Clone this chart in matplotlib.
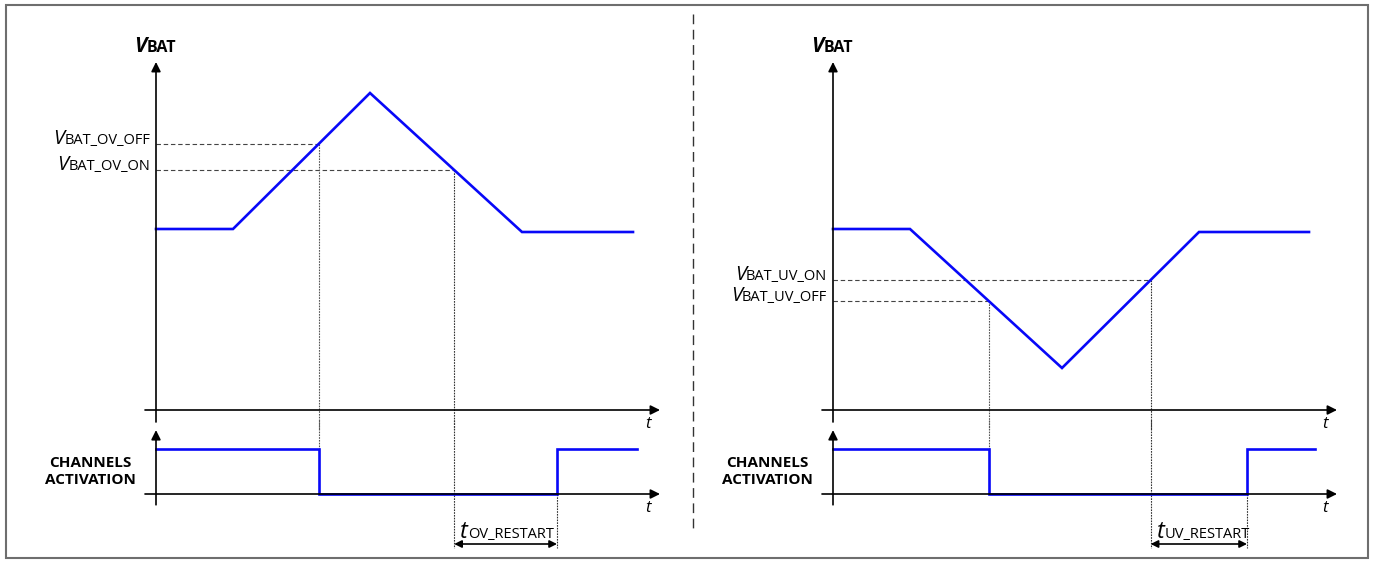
import numpy as np
import matplotlib.pyplot as plt
from matplotlib.patches import Rectangle

# waveform data (t in arbitrary time units, V in arbitrary volts)
t_ov = [0, 7.7, 21.4, 36.6, 47.7]
v_ov = [18.1, 18.1, 31.7, 17.8, 17.8]
t_uv = [0, 7.7, 22.9, 36.6, 47.6]
v_uv = [18.1, 18.1, 4.2, 17.8, 17.8]

v_ov_off = 26.6
v_ov_on = 24.0
v_uv_on = 13.0
v_uv_off = 10.9

restart_end_ov = 40.1
restart_end_uv = 41.4
chan_end_ov = 48.1
chan_end_uv = 48.2

BLUE = '#0808f8'
FONT = 'Open Sans'
plt.rcParams['font.family'] = [FONT, 'DejaVu Sans']

W, H = 1373, 561
fig = plt.figure(figsize=(W / 100, H / 100), dpi=100)

# background axes in pixel coordinates for frame and separator
bg = fig.add_axes([0, 0, 1, 1])
bg.set_xlim(0, W)
bg.set_ylim(H, 0)
bg.axis('off')
bg.add_patch(Rectangle((6, 5), 1362, 553, fill=False, ec='#6e6e6e', lw=1.5))
bg.plot([693, 693], [14, 528], color='#333333', lw=1.0, ls=(0, (7, 4)))


def px_axes(x0, x1, ytop, ybot, xlim, ylim):
    ax = fig.add_axes([x0 / W, 1 - ybot / H, (x1 - x0) / W, (ybot - ytop) / H])
    ax.set_xlim(*xlim)
    ax.set_ylim(*ylim)
    ax.axis('off')
    ax.patch.set_alpha(0)
    return ax


def arrow(ax, x0, y0, x1, y1, style='-|>', ms=14):
    ax.annotate('', xy=(x1, y1), xytext=(x0, y0),
                arrowprops=dict(arrowstyle=style, color='black', lw=1.2,
                                mutation_scale=ms, shrinkA=0, shrinkB=0))


def right_label(ax, x, y, big, small, bsize=14.5, ssize=10.5):
    s = ax.text(x, y, small, ha='right', va='baseline', fontsize=ssize)
    ax.annotate(big, xy=(0, y), xycoords=(s, 'data'), ha='right', va='baseline',
                fontsize=bsize, style='italic')


def left_label(ax, x, y, big, small, bsize=16, ssize=10, weight='normal'):
    b = ax.text(x, y, big, ha='left', va='baseline', fontsize=bsize,
                style='italic', weight=weight)
    ax.annotate(small, xy=(1, y), xycoords=(b, 'data'), ha='left', va='baseline',
                fontsize=ssize, weight=weight)


def panel(x_origin, t_wave, v_wave, th_first, th_second, name_first, name_second,
          tag, restart_end, chan_end, falling):
    # main V axes: 10 px per unit, origin at (x_origin, 410)
    xl = (-1.6, 53.4)
    ax = px_axes(x_origin - 16, x_origin + 534, 30, 430, xl, (-2, 38))

    # channel axes: 45 px per unit, origin at (x_origin, 494)
    ch = px_axes(x_origin - 16, x_origin + 534, 420, 560, xl,
                 ((494 - 560) / 45, (494 - 420) / 45))

    # axes arrows
    arrow(ax, 0, -1.2, 0, 34.8)
    arrow(ax, -1.1, 0, 50.4, 0)
    arrow(ch, 0, -0.24, 0, 1.42)
    arrow(ch, -1.1, 0, 50.4, 0)
    ax.text(49.2, -1.45, 't', fontsize=12, style='italic', ha='center', va='center')
    ch.text(49.2, -0.31, 't', fontsize=12, style='italic', ha='center', va='center')

    # crossing times
    seg_a = (t_wave[1:3], v_wave[1:3])
    seg_b = (t_wave[2:4], v_wave[2:4])
    if falling:
        t_first = np.interp(th_first, seg_a[1][::-1], seg_a[0][::-1])
        t_second = np.interp(th_second, seg_b[1], seg_b[0])
    else:
        t_first = np.interp(th_first, seg_a[1], seg_a[0])
        t_second = np.interp(th_second, seg_b[1][::-1], seg_b[0][::-1])

    # threshold dashed lines
    ax.plot([0, t_first], [th_first, th_first], color='#444444', lw=0.8, ls=(0, (4, 2.5)))
    ax.plot([0, t_second], [th_second, th_second], color='#444444', lw=0.8, ls=(0, (4, 2.5)))
    right_label(ax, -0.6, th_first, 'V', name_first)
    right_label(ax, -0.6, th_second, 'V', name_second)

    # vertical dotted drops
    ax.plot([t_first, t_first], [th_first, -2], color='#555555', lw=0.8, ls=(0, (1.5, 1)))
    ch.plot([t_first, t_first], [(494 - 420) / 45, 1], color='#555555', lw=0.8, ls=(0, (1.5, 1)))
    ax.plot([t_second, t_second], [th_second, -2], color='#333333', lw=0.8, ls=(0, (1.5, 1)))
    ch.plot([t_second, t_second], [(494 - 420) / 45, (494 - 548) / 45],
            color='#333333', lw=0.8, ls=(0, (1.5, 1)))
    ch.plot([restart_end, restart_end], [0, (494 - 548) / 45],
            color='#333333', lw=0.8, ls=(0, (1.5, 1)))

    # waveform
    ax.plot(t_wave, v_wave, color=BLUE, lw=1.9, solid_joinstyle='miter')

    # channels activation
    ch_t = [0, t_first, t_first, restart_end, restart_end, chan_end]
    ch_v = [1, 1, 0, 0, 1, 1]
    ch.plot(ch_t, ch_v, color=BLUE, lw=1.9, solid_joinstyle='miter')
    ch.text(-6.6, 0.5, 'CHANNELS\nACTIVATION', fontsize=11, weight='bold',
            ha='center', va='center', linespacing=1.3)

    # restart arrow
    ya = (494 - 544) / 45
    arrow(ch, t_second, ya, restart_end, ya, style='<|-|>', ms=11)
    left_label(ch, t_second + 0.6, (494 - 538) / 45, 't', tag + '_RESTART',
               bsize=17, ssize=10.5)

    # title
    left_label(ax, -2.2, 35.8, 'V', 'BAT', bsize=15, ssize=11.5, weight='bold')


panel(156, t_ov, v_ov, v_ov_off, v_ov_on, 'BAT_OV_OFF', 'BAT_OV_ON', 'OV',
      restart_end_ov, chan_end_ov, falling=False)
panel(833, t_uv, v_uv, v_uv_off, v_uv_on, 'BAT_UV_OFF', 'BAT_UV_ON', 'UV',
      restart_end_uv, chan_end_uv, falling=True)

fig.savefig('out.png', dpi=100)
